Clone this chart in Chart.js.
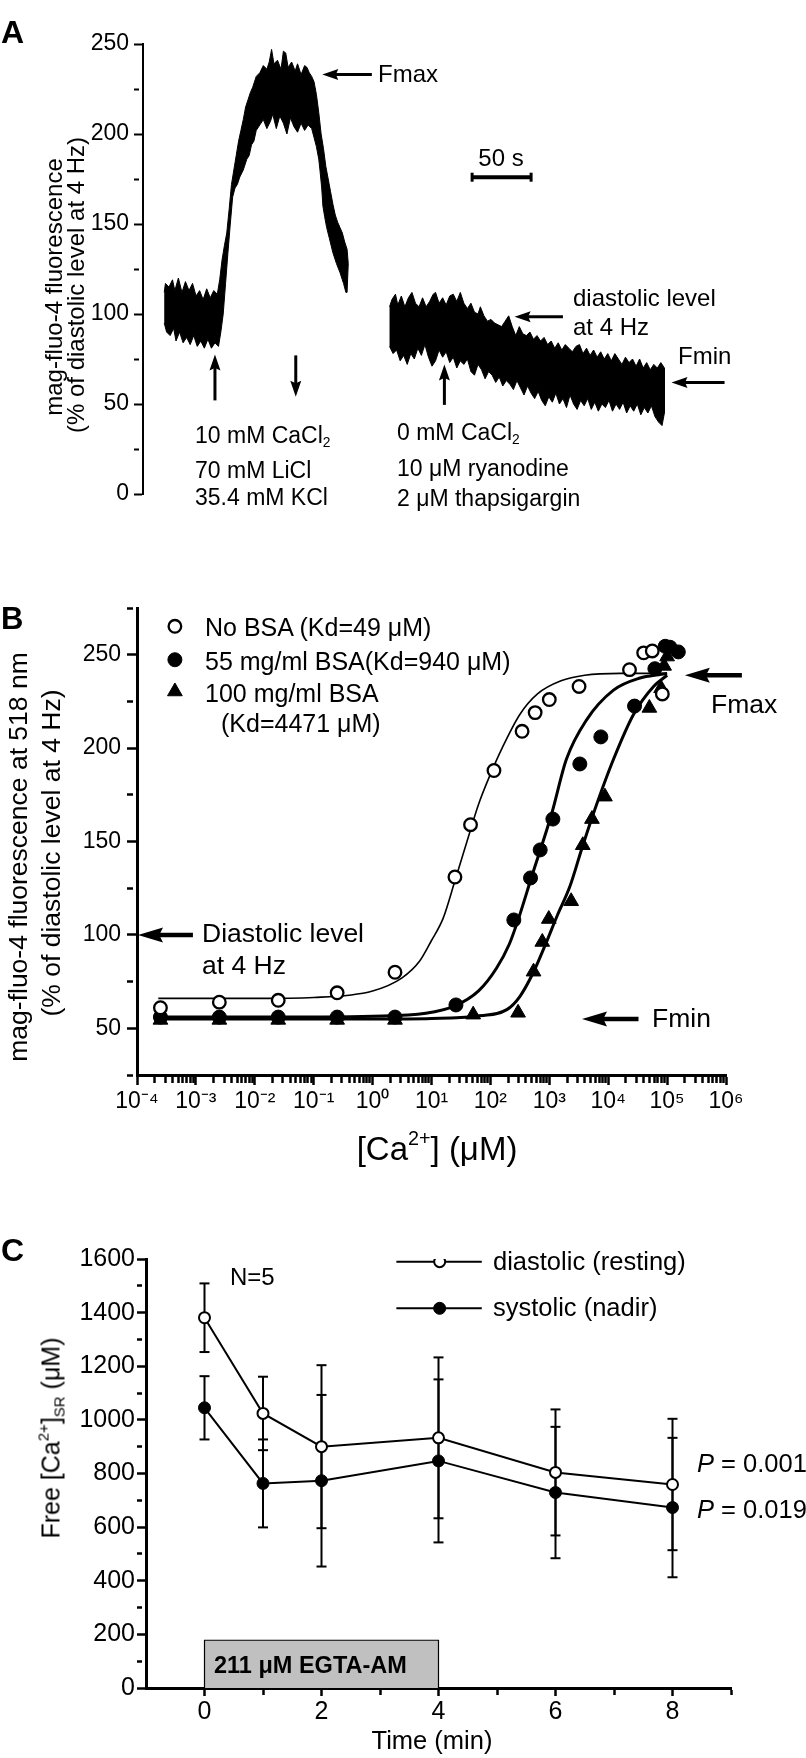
<!DOCTYPE html>
<html>
<head>
<meta charset="utf-8">
<script src="https://cdn.jsdelivr.net/npm/chart.js@4.4.1/dist/chart.umd.min.js"></script>
<style>
  body { margin: 0; background: #fff; }
  #page { position: relative; width: 806px; height: 1758px; overflow: hidden; background: #fff;
          font-family: "Liberation Sans", Arial, sans-serif; color: #000; }
  canvas { position: absolute; left: 0; }
  .t { position: absolute; white-space: nowrap; line-height: 1; transform: translateY(-50%); }
  .c { transform: translate(-50%, -50%); }
  .r { transform: translate(-50%, -50%) rotate(-90deg); }
  .b { font-weight: bold; }
  .t sub { font-size: 0.6em; vertical-align: -0.3em; line-height: 0; }
  .t sup { font-size: 0.6em; vertical-align: 0.75em; line-height: 0; }
</style>
</head>
<body>
<div id="page">
  <canvas id="chartA" width="806" height="540" style="top:0"></canvas>
  <canvas id="chartB" width="806" height="600" style="top:540px"></canvas>
  <canvas id="chartC" width="806" height="618" style="top:1140px"></canvas>

  <!-- panel A text -->
  <div class="t b" style="left:1px;top:32px;font-size:32px">A</div>
  <div class="t r" style="left:54px;top:287px;font-size:24px">mag-fluo-4 fluorescence</div>
  <div class="t r" style="left:76px;top:285px;font-size:24px">(% of diastolic level at 4 Hz)</div>
  <div class="t" style="left:378px;top:74px;font-size:24px">Fmax</div>
  <div class="t c" style="left:501px;top:158px;font-size:24px">50 s</div>
  <div class="t" style="left:573px;top:298px;font-size:24px">diastolic level</div>
  <div class="t" style="left:573px;top:327px;font-size:24px">at 4 Hz</div>
  <div class="t" style="left:678px;top:356px;font-size:24px">Fmin</div>
  <div class="t" style="left:195px;top:435px;font-size:23px">10 mM CaCl<sub>2</sub></div>
  <div class="t" style="left:195px;top:470px;font-size:23px">70 mM LiCl</div>
  <div class="t" style="left:195px;top:497px;font-size:23px">35.4 mM KCl</div>
  <div class="t" style="left:397px;top:432px;font-size:23px">0 mM CaCl<sub>2</sub></div>
  <div class="t" style="left:397px;top:468px;font-size:23px">10 μM ryanodine</div>
  <div class="t" style="left:397px;top:498px;font-size:23px">2 μM thapsigargin</div>

  <!-- panel B text -->
  <div class="t b" style="left:1px;top:618px;font-size:31px">B</div>
  <div class="t r" style="left:18px;top:857px;font-size:26.5px">mag-fluo-4 fluorescence at 518 nm</div>
  <div class="t r" style="left:51px;top:853px;font-size:26.5px">(% of diastolic level at 4 Hz)</div>
  <div class="t" style="left:205px;top:627px;font-size:25px">No BSA (Kd=49 μM)</div>
  <div class="t" style="left:205px;top:661px;font-size:25px">55 mg/ml BSA(Kd=940 μM)</div>
  <div class="t" style="left:205px;top:693px;font-size:25px">100 mg/ml BSA</div>
  <div class="t" style="left:221px;top:723px;font-size:25px">(Kd=4471 μM)</div>
  <div class="t" style="left:202px;top:933px;font-size:26.5px">Diastolic level</div>
  <div class="t" style="left:202px;top:965px;font-size:26.5px">at 4 Hz</div>
  <div class="t" style="left:711px;top:704px;font-size:26.5px">Fmax</div>
  <div class="t" style="left:652px;top:1018px;font-size:26.5px">Fmin</div>
  <div class="t c" style="left:437px;top:1148px;font-size:33px">[Ca<sup>2+</sup>] (μM)</div>

  <!-- panel C text -->
  <div class="t b" style="left:1px;top:1250px;font-size:32px">C</div>
  <div class="t r" style="left:51px;top:1438px;font-size:25px">Free [Ca<sup>2+</sup>]<sub>SR</sub> (μM)</div>
  <div class="t" style="left:230px;top:1277px;font-size:24px">N=5</div>
  <div class="t" style="left:493px;top:1262px;font-size:25.5px">diastolic (resting)</div>
  <div class="t" style="left:493px;top:1308px;font-size:25.5px">systolic (nadir)</div>
  <div class="t" style="left:697px;top:1464px;font-size:25.5px"><i>P</i> = 0.001</div>
  <div class="t" style="left:697px;top:1510px;font-size:25.5px"><i>P</i> = 0.019</div>
  <div class="t b" style="left:214px;top:1666px;font-size:23.5px">211 μM EGTA-AM</div>
  <div class="t c" style="left:432px;top:1741px;font-size:25.5px">Time (min)</div>
</div>

<script>
// ---- panel A: mag-fluo-4 trace, band outline [time s, % of diastolic]
var traceOnUpper = [[18,112],[19,117],[22,115],[25,119],[27,113],[30,120],[33,112],[36,118],[39,113],[42,117],
  [45,110],[48,113],[51,108],[54,114],[57,109],[60,113],[63,111],[65,119],[67,130],[69,138],[71,145],[73,158],
  [75,172],[77,180],[79,188],[81,196],[83,202],[85,208],[87,215],[89,219],[91,223],[93,226],[96,232],[99,234],
  [102,238],[105,236],[107,240],[109,247],[111,239],[114,241],[117,236],[119,246],[121,245],[123,237],[126,240],
  [129,235],[131,239],[134,233],[137,238],[139,237],[141,234],[143,232],[145,229],[147,222],[149,212],[151,200],
  [153,192],[155,182],[157,175],[159,168],[161,161],[163,155],[165,151],[167,148],[169,145],[171,140],[173,136],
  [174,128],[173,112]];
var traceOnLower = [[18,95],[20,90],[23,88],[26,92],[28,85],[31,90],[34,84],[37,87],[40,83],[43,88],[46,82],
  [49,85],[52,81],[55,86],[58,81],[61,84],[64,82],[66,90],[68,100],[70,117],[72,134],[74,150],[76,165],[78,170],
  [80,172],[82,176],[85,180],[88,186],[90,188],[92,194],[94,196],[96,202],[99,205],[102,208],[105,203],[108,207],
  [110,211],[113,203],[116,210],[119,206],[122,200],[125,209],[128,204],[131,201],[134,206],[137,202],[140,205],
  [143,203],[145,198],[147,193],[149,186],[150,180],[151.5,170],[152.5,160],[154,154],[155.7,148],[158,142],
  [161,134],[164,128],[167,123],[170,117],[172,112]];
var traceOffUpper = [[209,104],[211,108],[214,111],[216,105],[219,110],[222,104],[225,109],[228,112],[231,106],
  [234,104],[237,109],[240,104],[243,107],[246,111],[248,112],[251,106],[254,109],[257,105],[260,110],[263,111],
  [266,107],[269,112],[272,106],[275,103],[278,106],[281,101],[284,100],[286,104],[289,99],[292,96],[295,97],
  [298,95],[301,94],[304,93],[307,96],[310,99],[313,93],[316,88],[319,93],[322,89],[325,88],[328,90],[331,86],
  [334,88],[337,85],[340,87],[343,83],[346,85],[349,81],[352,84],[355,80],[358,83],[361,81],[364,79],[367,82],
  [370,83],[373,78],[376,81],[379,77],[382,80],[385,76],[388,79],[391,75],[394,78],[397,74],[400,78],[403,75],
  [406,72],[409,76],[412,73],[415,75],[418,71],[421,75],[424,70],[427,73],[430,69],[433,72],[436,70],[439,73],
  [442,70]];
var traceOffLower = [[209,82],[212,78],[215,80],[218,74],[221,77],[224,72],[227,78],[230,75],[233,81],[236,77],
  [239,83],[242,76],[245,71],[248,74],[251,80],[254,76],[257,79],[260,73],[263,76],[266,70],[269,74],[272,72],
  [275,75],[278,68],[281,66],[284,72],[287,69],[290,64],[293,68],[296,66],[299,62],[302,65],[305,60],[308,63],
  [311,61],[314,58],[317,63],[320,59],[323,55],[326,60],[329,56],[332,53],[335,57],[338,52],[341,49],[344,54],
  [347,51],[350,56],[353,50],[356,53],[359,48],[362,55],[365,50],[368,47],[371,52],[374,49],[377,53],[380,47],
  [383,51],[386,46],[389,50],[392,48],[395,52],[398,46],[401,50],[404,47],[407,51],[410,45],[413,49],[416,46],
  [419,50],[422,44],[425,48],[428,45],[431,49],[434,43],[437,40],[440,38],[442,45]];
var scaleBarSec = [279, 329];
var scaleBarLevel = 176;
var aYTicks = [0, 25, 50, 75, 100, 125, 150, 175, 200, 225, 250];
var aYLabels = [0, 50, 100, 150, 200, 250];

// ---- panel B: calibration, x = [Ca2+] uM, y = % of diastolic level
var noBsaX = [0.00025, 0.0025, 0.025, 0.25, 2.4, 25, 46, 115, 345, 575, 1000, 3200, 23000, 40000, 56000, 83000];
var noBsaY = [61, 64, 65, 69, 80, 131, 159, 188, 209, 219, 226, 233, 242, 251, 252, 229];
var bsa55X = [0.00025, 0.0025, 0.025, 0.25, 2.4, 26, 250, 480, 700, 1150, 3300, 7500, 28000, 62000, 93000, 112000, 155000];
var bsa55Y = [56, 56, 56, 56, 56, 62.5, 108, 130.5, 145.5, 162, 191.5, 206, 222.5, 242.5, 254.5, 254, 251.5];
var bsa100X = [0.00025, 0.0025, 0.025, 0.25, 2.4, 51, 295, 540, 760, 980, 2350, 3700, 5300, 8800, 50000, 79000, 89000, 100000];
var bsa100Y = [54.5, 54.5, 54.5, 54.5, 54.5, 57.3, 58.3, 80.3, 96.2, 108.5, 118, 148, 162, 174, 221.5, 232, 244, 249];
var fitNoBsaX = [0.00023, 0.01, 0.1, 1, 3.16, 6.3, 10, 15.8, 25, 40, 63, 100, 158, 316, 630, 1580, 4000, 16000, 100000];
var fitNoBsaY = [66, 66, 66.5, 70, 77, 86, 97, 109, 129, 150, 170, 186, 200, 218, 229, 236, 239, 240, 240];
var fit55X = [0.00023, 0.01, 1, 8, 25, 63, 126, 209, 295, 500, 1100, 1950, 4270, 12300, 34700, 80000, 100000];
var fit55Y = [56, 56, 56.5, 58, 62, 70, 82, 95, 108, 131, 165, 194, 215, 231, 237.5, 239.5, 240];
var fit100X = [0.00023, 1, 10, 56, 190, 316, 537, 890, 1350, 2240, 3550, 5620, 12300, 26900, 58900, 100000];
var fit100Y = [55, 55, 55.3, 56.5, 60, 67, 80, 96, 110, 126, 146, 165, 194, 218, 233, 239];
var bLegendX = 0.00044;
var bLegendY = [265.2, 247.3, 230.3];
var bYTicks = [25, 50, 75, 100, 125, 150, 175, 200, 225, 250, 275];
var bYLabels = [50, 100, 150, 200, 250];
var bDecades = [-4, -3, -2, -1, 0, 1, 2, 3, 4, 5, 6];

// ---- panel C: free [Ca2+]SR vs time
var timeMin = [0, 1, 2, 4, 6, 8];
var diastolicVal = [1381, 1024, 900, 933, 804, 759];
var diastolicErr = [128, 137, 304, 300, 235, 245];
var systolicVal = [1045, 763, 773, 847, 729, 673];
var systolicErr = [118, 164, 320, 304, 245, 260];
var egtaStart = 0, egtaEnd = 4, egtaHeight = 178;
var cLegendX = [3.28, 4.02, 4.74];
var cLegendY = [1590, 1416];
var cXTicks = [0, 1, 2, 3, 4, 5, 6, 7, 8, 9];
var cXLabels = [0, 2, 4, 6, 8];
var cYTicks = [0, 100, 200, 300, 400, 500, 600, 700, 800, 900, 1000, 1100, 1200, 1300, 1400, 1500, 1600];
var cYLabels = [0, 200, 400, 600, 800, 1000, 1200, 1400, 1600];

var FONT = '"Liberation Sans", Arial, sans-serif';
Chart.defaults.font.family = FONT;
Chart.defaults.color = '#000';
Chart.defaults.animation = false;
Chart.defaults.plugins.legend.display = false;
Chart.defaults.plugins.tooltip.enabled = false;

function pairs(xs, ys) { return xs.map(function (x, i) { return {x: x, y: ys[i]}; }); }
function pts(list) { return list.map(function (p) { return {x: p[0], y: p[1]}; }); }
function outline(up, lo) { return pts(up.concat(lo.slice().reverse())); }
function tickSet(values) {
  return function (scale) { scale.ticks = values.map(function (v) { return {value: v}; }); };
}
function errorBars(xs, ys, errs) {
  var out = [];
  xs.forEach(function (x, i) {
    out.push({x: x, y: ys[i] - errs[i]}, {x: x, y: ys[i] + errs[i]}, {x: x, y: null});
  });
  return out;
}
function isDecade(v) { var l = Math.log10(v); return Math.abs(l - Math.round(l)) < 1e-6; }
var SUP = {'-': '\u207B', '0': '\u2070', '1': '\u00B9', '2': '\u00B2', '3': '\u00B3',
           '4': '\u2074', '5': '\u2075', '6': '\u2076'};
function powLabel(v) {
  var e = String(Math.round(Math.log10(v)));
  return '10' + e.split('').map(function (ch) { return SUP[ch]; }).join('');
}

// axis helper: outward ticks, minor ones cut short with a dash pattern
function axisGrid(isMajor, len, minorLen, width) {
  return {
    drawOnChartArea: false, drawTicks: true, tickLength: len, tickWidth: width, tickColor: '#000',
    tickBorderDash: function (ctx) { return isMajor(ctx.tick.value) ? [] : [minorLen, 200]; }
  };
}

// arrows given in data coordinates
var arrowPlugin = {
  id: 'arrows',
  afterDatasetsDraw: function (chart, args, opts) {
    var ctx = chart.ctx, xs = chart.scales.x, ys = chart.scales.y;
    ctx.save();
    ctx.fillStyle = '#000';
    ctx.strokeStyle = '#000';
    (opts.items || []).forEach(function (a) {
      var x1 = xs.getPixelForValue(a.from[0]), y1 = ys.getPixelForValue(a.from[1]);
      var x2 = xs.getPixelForValue(a.to[0]), y2 = ys.getPixelForValue(a.to[1]);
      var ang = Math.atan2(y2 - y1, x2 - x1);
      var c = Math.cos(ang), s = Math.sin(ang), hl = opts.head, hw = opts.headWidth;
      ctx.lineWidth = opts.width;
      ctx.beginPath();
      ctx.moveTo(x1, y1);
      ctx.lineTo(x2 - c * hl * 0.8, y2 - s * hl * 0.8);
      ctx.stroke();
      ctx.beginPath();
      ctx.moveTo(x2, y2);
      ctx.lineTo(x2 - c * hl - s * hw, y2 - s * hl + c * hw);
      ctx.lineTo(x2 - c * hl * 0.85, y2 - s * hl * 0.85);
      ctx.lineTo(x2 - c * hl + s * hw, y2 - s * hl - c * hw);
      ctx.closePath();
      ctx.fill();
    });
    ctx.restore();
  }
};

// ---------- panel A
new Chart(document.getElementById('chartA'), {
  type: 'line',
  data: {
    datasets: [
      { data: outline(traceOnUpper, traceOnLower), fill: 'shape', backgroundColor: '#000',
        borderColor: '#000', borderWidth: 1, pointRadius: 0, tension: 0 },
      { data: outline(traceOffUpper, traceOffLower), fill: 'shape', backgroundColor: '#000',
        borderColor: '#000', borderWidth: 1, pointRadius: 0, tension: 0 },
      { data: scaleBarSec.map(function (t) { return {x: t, y: scaleBarLevel}; }), borderColor: '#000',
        borderWidth: 4, pointStyle: 'line', rotation: 90, pointRadius: 4.5, pointBorderWidth: 3,
        pointBorderColor: '#000' }
    ]
  },
  options: {
    responsive: false, devicePixelRatio: 1,
    layout: { padding: { top: 44, bottom: 46, left: 0, right: 26 } },
    scales: {
      x: { type: 'linear', min: 0, max: 540, display: false },
      y: {
        min: 0, max: 250,
        afterBuildTicks: tickSet(aYTicks),
        afterFit: function (s) { s.width = 143; },
        ticks: { autoSkip: false, padding: 5, font: { size: 23 },
                 callback: function (v) { return aYLabels.indexOf(v) >= 0 ? String(v) : ''; } },
        grid: axisGrid(function (v) { return aYLabels.indexOf(v) >= 0; }, 9, 5, 2),
        border: { display: true, width: 2, color: '#000' }
      }
    },
    plugins: {
      arrows: { width: 3, head: 16, headWidth: 5.5, items: [
        { from: [194, 233], to: [152, 233] },
        { from: [356, 98.5], to: [315, 98.5] },
        { from: [493, 62], to: [448, 62] },
        { from: [61, 52], to: [61, 77.5] },
        { from: [129.5, 77], to: [129.5, 54] },
        { from: [255.5, 49.5], to: [255.5, 72] }
      ] }
    }
  },
  plugins: [arrowPlugin]
});

// ---------- panel B
var bLogTicks = [];
bDecades.forEach(function (d) {
  for (var k = 1; k <= 9; k++) {
    if (d === 6 && k > 1) break;
    bLogTicks.push(Number((k * Math.pow(10, d)).toPrecision(6)));
  }
});

new Chart(document.getElementById('chartB'), {
  type: 'line',
  data: {
    datasets: [
      { data: pairs(fitNoBsaX, fitNoBsaY), borderColor: '#000', borderWidth: 1.6, pointRadius: 0,
        cubicInterpolationMode: 'monotone', order: 5 },
      { data: pairs(fit55X, fit55Y), borderColor: '#000', borderWidth: 3, pointRadius: 0,
        cubicInterpolationMode: 'monotone', order: 5 },
      { data: pairs(fit100X, fit100Y), borderColor: '#000', borderWidth: 3, pointRadius: 0,
        cubicInterpolationMode: 'monotone', order: 5 },
      { data: pairs(noBsaX, noBsaY), showLine: false, pointStyle: 'circle', pointRadius: 6.3,
        pointBorderWidth: 2.3, pointBackgroundColor: '#fff', pointBorderColor: '#000', order: 1 },
      { data: pairs(bsa55X, bsa55Y), showLine: false, pointStyle: 'circle', pointRadius: 7,
        pointBorderWidth: 1, pointBackgroundColor: '#000', pointBorderColor: '#000', order: 2 },
      { data: pairs(bsa100X, bsa100Y), showLine: false, pointStyle: 'triangle', pointRadius: 8.5,
        pointBorderWidth: 1, pointBackgroundColor: '#000', pointBorderColor: '#000', order: 2 },
      { data: [{x: bLegendX, y: bLegendY[0]}], showLine: false, pointStyle: 'circle', pointRadius: 6.3,
        pointBorderWidth: 2.3, pointBackgroundColor: '#fff', pointBorderColor: '#000' },
      { data: [{x: bLegendX, y: bLegendY[1]}], showLine: false, pointStyle: 'circle', pointRadius: 7,
        pointBackgroundColor: '#000', pointBorderColor: '#000' },
      { data: [{x: bLegendX, y: bLegendY[2]}], showLine: false, pointStyle: 'triangle', pointRadius: 8.5,
        pointBackgroundColor: '#000', pointBorderColor: '#000' }
    ]
  },
  options: {
    responsive: false, devicePixelRatio: 1,
    layout: { padding: { top: 68, bottom: 25, left: 0, right: 80 } },
    scales: {
      x: {
        type: 'logarithmic', min: 1e-4, max: 1e6,
        afterBuildTicks: tickSet(bLogTicks),
        afterFit: function (s) { s.height = 40; },
        ticks: { autoSkip: false, maxRotation: 0, minRotation: 0, padding: 3, font: { size: 23 },
                 callback: function (v) { return isDecade(v) ? powLabel(v) : ''; } },
        grid: axisGrid(isDecade, 10, 6, 2.5),
        border: { display: true, width: 3, color: '#000' }
      },
      y: {
        min: 25, max: 275,
        afterBuildTicks: tickSet(bYTicks),
        afterFit: function (s) { s.width = 137; },
        ticks: { autoSkip: false, padding: 6, font: { size: 23 },
                 callback: function (v) { return bYLabels.indexOf(v) >= 0 ? String(v) : ''; } },
        grid: axisGrid(function (v) { return bYLabels.indexOf(v) >= 0; }, 10, 6, 2.5),
        border: { display: true, width: 3, color: '#000' }
      }
    },
    plugins: {
      arrows: { width: 4.5, head: 25, headWidth: 7.5, items: [
        { from: [8.9e-4, 100], to: [1.04e-4, 100] },
        { from: [1.86e6, 239], to: [2.0e5, 239] },
        { from: [3.27e4, 55], to: [3.59e3, 55] }
      ] }
    }
  },
  plugins: [arrowPlugin]
});

// ---------- panel C
new Chart(document.getElementById('chartC'), {
  type: 'line',
  data: {
    datasets: [
      { data: [{x: egtaStart, y: 0}, {x: egtaStart, y: egtaHeight}, {x: egtaEnd, y: egtaHeight}, {x: egtaEnd, y: 0}],
        fill: 'shape', backgroundColor: '#c0c0c0', borderColor: '#000', borderWidth: 1.2,
        pointRadius: 0, tension: 0, order: 10 },
      { data: errorBars(timeMin, diastolicVal, diastolicErr), borderColor: '#000', borderWidth: 2,
        pointStyle: 'line', pointRadius: 5, pointBorderWidth: 2, pointBorderColor: '#000', spanGaps: false, order: 4 },
      { data: errorBars(timeMin, systolicVal, systolicErr), borderColor: '#000', borderWidth: 2,
        pointStyle: 'line', pointRadius: 5, pointBorderWidth: 2, pointBorderColor: '#000', spanGaps: false, order: 4 },
      { data: pairs(timeMin, diastolicVal), borderColor: '#000', borderWidth: 2, pointStyle: 'circle',
        pointRadius: 5.5, pointBorderWidth: 2, pointBackgroundColor: '#fff', pointBorderColor: '#000', order: 1 },
      { data: pairs(timeMin, systolicVal), borderColor: '#000', borderWidth: 2, pointStyle: 'circle',
        pointRadius: 6, pointBorderWidth: 1, pointBackgroundColor: '#000', pointBorderColor: '#000', order: 1 },
      { data: cLegendX.map(function (x) { return {x: x, y: cLegendY[0]}; }), borderColor: '#000', borderWidth: 2,
        pointRadius: [0, 5.5, 0], pointBorderWidth: 2, pointBackgroundColor: '#fff', pointBorderColor: '#000' },
      { data: cLegendX.map(function (x) { return {x: x, y: cLegendY[1]}; }), borderColor: '#000', borderWidth: 2,
        pointRadius: [0, 6, 0], pointBorderWidth: 1, pointBackgroundColor: '#000', pointBorderColor: '#000' }
    ]
  },
  options: {
    responsive: false, devicePixelRatio: 1,
    layout: { padding: { top: 119, bottom: 30, left: 0, right: 75 } },
    scales: {
      x: {
        type: 'linear', min: -1, max: 9,
        afterBuildTicks: tickSet(cXTicks),
        afterFit: function (s) { s.height = 40; },
        ticks: { autoSkip: false, maxRotation: 0, padding: 1, font: { size: 25 },
                 callback: function (v) { return cXLabels.indexOf(v) >= 0 ? String(v) : ''; } },
        grid: axisGrid(function (v) { return cXLabels.indexOf(v) >= 0; }, 8, 5, 2.5),
        border: { display: true, width: 3, color: '#000' }
      },
      y: {
        min: 0, max: 1600,
        afterBuildTicks: tickSet(cYTicks),
        afterFit: function (s) { s.width = 146; },
        ticks: { autoSkip: false, padding: 2, font: { size: 25 },
                 callback: function (v) { return cYLabels.indexOf(v) >= 0 ? String(v) : ''; } },
        grid: axisGrid(function (v) { return cYLabels.indexOf(v) >= 0; }, 9, 5, 2.5),
        border: { display: true, width: 3, color: '#000' }
      }
    }
  }
});
</script>
</body>
</html>
